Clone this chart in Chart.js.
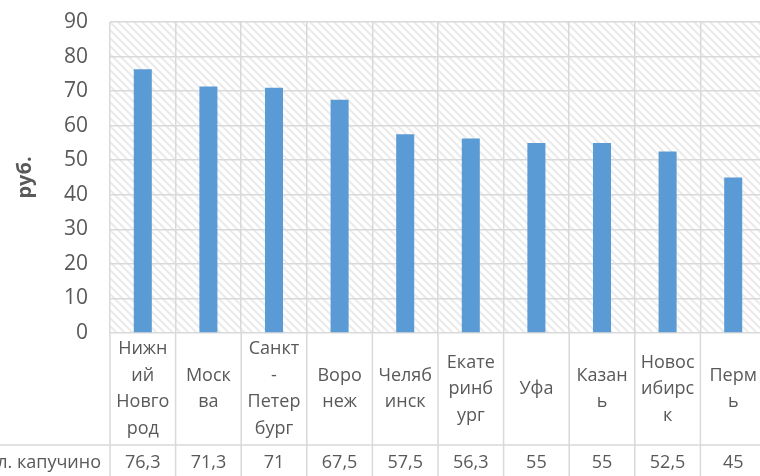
<!DOCTYPE html>
<html>
<head>
<meta charset="utf-8">
<script src="https://cdn.jsdelivr.net/npm/chart.js@4/dist/chart.umd.min.js"></script>
<style>
  html, body { margin: 0; padding: 0; background: #fff; overflow: hidden; width: 760px; height: 476px; }
  #wrap { position: absolute; left: 0; top: 0; width: 770px; height: 476px; }
</style>
</head>
<body>
<div id="wrap"><canvas id="priceChart" width="770" height="476"></canvas></div>
<script>
// --- Chart data ---
const cityLabels = [
    ['Нижн', 'ий', 'Новго', 'род'],
    ['Моск', 'ва'],
    ['Санкт', '-', 'Петер', 'бург'],
    ['Воро', 'неж'],
    ['Челяб', 'инск'],
    ['Екате', 'ринб', 'ург'],
    ['Уфа'],
    ['Казан', 'ь'],
    ['Новос', 'ибирс', 'к'],
    ['Перм', 'ь']
];
const cappuccinoPrices = [76.3, 71.3, 71, 67.5, 57.5, 56.3, 55, 55, 52.5, 45];
const priceText = ['76,3', '71,3', '71', '67,5', '57,5', '56,3', '55', '55', '52,5', '45'];
const seriesName = 'мл. капучино';
const axisTitle = 'руб.';

const textColor = '#595959';
const gridColor = '#d9d9d9';
const fontFamily = '"Open Sans", sans-serif';

// Excel-like "wide downward diagonal" fill for the plot area
function makeHatch() {
    const c = document.createElement('canvas');
    c.width = 8; c.height = 8;
    const g = c.getContext('2d');
    g.fillStyle = '#ffffff';
    g.fillRect(0, 0, 8, 8);
    g.strokeStyle = '#ebebeb';
    g.lineWidth = 2.2;
    g.beginPath();
    g.moveTo(-2, -2); g.lineTo(10, 10);
    g.moveTo(-2, 6); g.lineTo(2, 10);
    g.moveTo(6, -2); g.lineTo(10, 2);
    g.stroke();
    return c;
}

const plotBackground = {
    id: 'plotBackground',
    beforeDraw(chart) {
        const { ctx, chartArea: a } = chart;
        ctx.save();
        ctx.fillStyle = ctx.createPattern(makeHatch(), 'repeat');
        ctx.fillRect(a.left, a.top, a.right - a.left, a.bottom - a.top);
        ctx.restore();
    }
};

// Data table under the plot (category row + value row) and the axis title
const dataTable = {
    id: 'dataTable',
    afterDraw(chart) {
        const { ctx, chartArea: a } = chart;
        const x = chart.scales.x;
        const n = cityLabels.length;
        const step = (a.right - a.left) / n;
        const rowSplit = 445;
        const bottom = chart.height;

        ctx.save();
        ctx.strokeStyle = gridColor;
        ctx.lineWidth = 1.5;
        ctx.beginPath();
        for (let i = 0; i <= n; i++) {
            const bx = a.left + i * step;
            ctx.moveTo(bx, a.bottom);
            ctx.lineTo(bx, bottom);
        }
        ctx.moveTo(0, rowSplit);
        ctx.lineTo(a.right, rowSplit);
        ctx.stroke();

        ctx.fillStyle = textColor;
        ctx.font = '18px ' + fontFamily;
        ctx.textAlign = 'center';
        ctx.textBaseline = 'middle';
        const lineH = 26.5;
        const rowMid = (a.bottom + rowSplit) / 2;
        cityLabels.forEach((lines, i) => {
            const cx = x.getPixelForValue(i);
            const y0 = rowMid - (lines.length - 1) * lineH / 2;
            lines.forEach((t, j) => ctx.fillText(t, cx, y0 + j * lineH));
            ctx.fillText(priceText[i], cx, 463);
        });

        ctx.textAlign = 'right';
        ctx.fillText(seriesName, 101, 463);

        // y axis title
        ctx.font = 'bold 20px ' + fontFamily;
        ctx.textAlign = 'center';
        ctx.translate(25, (a.top + a.bottom) / 2);
        ctx.rotate(-Math.PI / 2);
        ctx.fillText(axisTitle, 0, 0);
        ctx.restore();
    }
};

const ctx = document.getElementById('priceChart').getContext('2d');
new Chart(ctx, {
    type: 'bar',
    data: {
        labels: cityLabels,
        datasets: [{
            label: seriesName,
            data: cappuccinoPrices,
            backgroundColor: '#5b9bd5',
            categoryPercentage: 1,
            barPercentage: 0.275
        }]
    },
    options: {
        responsive: false,
        animation: false,
        layout: { autoPadding: false, padding: { top: 22, right: 4, bottom: 143, left: 0 } },
        plugins: {
            legend: { display: false },
            tooltip: { enabled: false }
        },
        scales: {
            x: {
                ticks: { display: false },
                grid: { color: gridColor, lineWidth: 1.5, offset: true, drawTicks: false },
                border: { display: false },
                afterFit(scale) { scale.height = 0; }
            },
            y: {
                min: 0,
                max: 90,
                ticks: {
                    stepSize: 10,
                    color: textColor,
                    padding: 22,
                    font: { family: fontFamily, size: 21 }
                },
                grid: { color: gridColor, lineWidth: 1.5, drawTicks: false },
                border: { display: false },
                afterFit(scale) { scale.width = 110; scale.paddingTop = 0; scale.paddingBottom = 0; }
            }
        }
    },
    plugins: [plotBackground, dataTable]
});
</script>
</body>
</html>
